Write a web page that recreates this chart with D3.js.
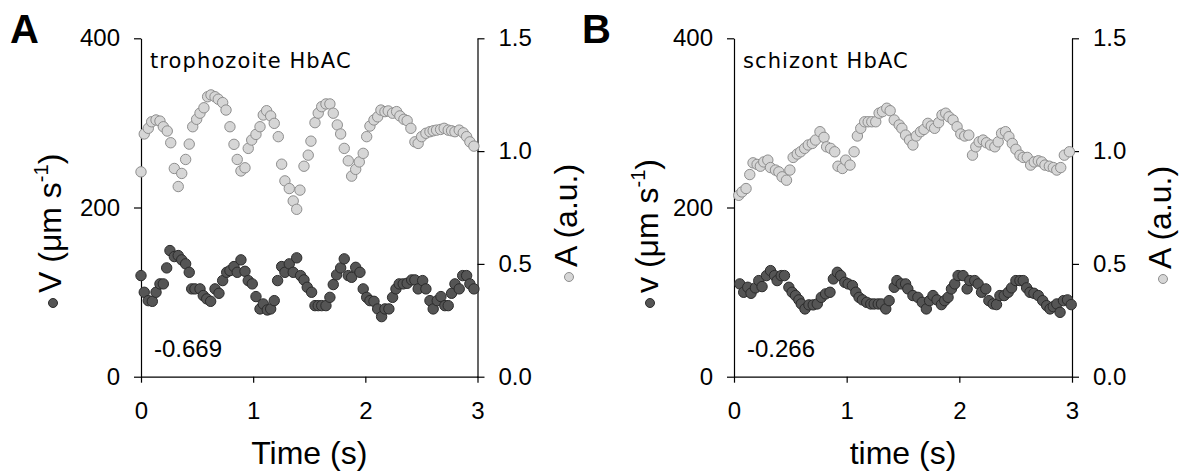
<!DOCTYPE html>
<html>
<head>
<meta charset="utf-8">
<script src="https://cdn.jsdelivr.net/npm/d3@7"></script>
<style>
  body { margin: 0; background: #fff; }
  svg text { font-family: "Liberation Sans", Arial, sans-serif; fill: #000; }
</style>
</head>
<body>
<svg id="chart" width="1182" height="475"></svg>
<script>
// ---- data: [time (s), value] ----
const tropho_A = [[0,.908],[.029,1.076],[.065,1.101],[.095,1.130],[.134,1.138],[.169,1.133],[.199,1.108],[.234,1.089],[.265,1.037],[.297,.923],
  [.332,.843],[.363,.901],[.398,.963],[.430,1.031],[.461,1.108],[.496,1.141],[.526,1.168],[.561,1.192],[.594,1.241],[.624,1.249],
  [.660,1.241],[.689,1.230],[.728,1.215],[.758,1.182],[.793,1.108],[.829,1.030],[.858,.963],[.891,.912],[.927,.926],[.956,1.012],
  [.987,1.049],[1.025,1.074],[1.061,1.108],[1.090,1.160],[1.120,1.179],[1.156,1.156],[1.188,1.123],[1.224,1.064],[1.254,.942],[1.283,.868],
  [1.322,.834],[1.357,.779],[1.388,.742],[1.417,.827],[1.453,.933],[1.491,.982],[1.515,1.044],[1.551,1.126],[1.580,1.168],[1.611,1.197],
  [1.649,1.209],[1.684,1.209],[1.714,1.168],[1.750,1.116],[1.780,1.076],[1.812,1.012],[1.848,.957],[1.878,.889],[1.914,.919],[1.946,.952],
  [1.981,.990],[2.012,1.064],[2.041,1.111],[2.077,1.138],[2.110,1.152],[2.139,1.182],[2.175,1.175],[2.204,1.178],[2.243,1.168],[2.279,1.175],
  [2.308,1.156],[2.344,1.141],[2.373,1.135],[2.406,1.101],[2.442,1.041],[2.471,1.034],[2.502,1.064],[2.540,1.079],[2.576,1.086],[2.605,1.090],
  [2.635,1.093],[2.671,1.096],[2.703,1.101],[2.739,1.093],[2.769,1.090],[2.799,1.086],[2.837,1.093],[2.873,1.081],[2.903,1.064],[2.932,1.041],
  [2.968,1.022]];

const tropho_V = [[0,119.5],[.029,99.8],[.065,89.9],[.101,89.1],[.134,99.8],[.169,109.7],[.199,109.7],[.229,128.6],[.258,149.1],[.297,142],
  [.332,143.2],[.363,138.1],[.398,133.4],[.430,123.4],[.452,103.8],[.481,103.8],[.526,103.8],[.555,95.9],[.586,92],[.621,89.1],
  [.660,103.8],[.695,98.6],[.728,113.6],[.764,123.4],[.793,125.4],[.829,130.2],[.858,123.4],[.891,138.1],[.927,124.6],[.956,113.6],
  [.992,109.7],[1.025,94.7],[1.061,80.1],[1.090,86],[1.126,78.9],[1.156,80.1],[1.188,89.9],[1.218,113.6],[1.254,130.2],[1.283,123.4],
  [1.322,133.4],[1.357,123.4],[1.388,140.5],[1.423,119.5],[1.453,114.4],[1.482,105.7],[1.521,99.8],[1.551,84],[1.580,84],[1.611,84],
  [1.649,84],[1.684,93.8],[1.714,108.9],[1.744,120.4],[1.780,128.6],[1.812,139.3],[1.848,119.5],[1.878,117.5],[1.914,129.3],[1.952,123.4],
  [1.981,103.8],[2.012,93.8],[2.041,89.9],[2.077,89.1],[2.110,80.1],[2.145,71],[2.175,80.1],[2.210,80.1],[2.243,93.8],[2.273,103.8],
  [2.302,109.7],[2.338,109.7],[2.373,110.4],[2.413,114.4],[2.442,114.4],[2.471,103.8],[2.511,113.6],[2.540,103.8],[2.576,89.9],[2.605,80.1],
  [2.641,89.9],[2.674,94.7],[2.709,84],[2.739,84],[2.769,98.6],[2.799,109.7],[2.837,103.8],[2.868,119.5],[2.903,119.5],[2.932,109.7],
  [2.968,103.8]];

const schiz_A = [[.042,.804],[.071,.819],[.107,.834],[.140,.896],[.169,.948],[.205,.941],[.234,.933],[.264,.952],[.300,.960],[.324,.927],
  [.368,.916],[.398,.908],[.427,.886],[.466,.871],[.496,.916],[.525,.972],[.561,.987],[.591,.997],[.627,1.012],[.659,1.027],
  [.695,1.034],[.724,1.049],[.763,1.086],[.799,1.061],[.822,1.019],[.858,1.012],[.894,.997],[.923,.933],[.962,.923],[.991,.960],
  [1.030,.938],[1.066,.997],[1.095,1.067],[1.125,1.101],[1.160,1.130],[1.191,1.130],[1.223,1.130],[1.258,1.130],[1.288,1.168],[1.318,1.175],
  [1.356,1.190],[1.386,1.179],[1.422,1.138],[1.466,1.116],[1.490,1.101],[1.523,1.071],[1.558,1.049],[1.588,1.027],[1.618,1.067],[1.656,1.086],
  [1.686,1.096],[1.721,1.123],[1.751,1.111],[1.781,1.101],[1.816,1.126],[1.846,1.160],[1.879,1.168],[1.908,1.152],[1.944,1.138],[1.980,1.108],
  [2.013,1.076],[2.048,1.067],[2.084,1.071],[2.117,.982],[2.146,1.019],[2.176,1.041],[2.211,1.049],[2.241,1.037],[2.277,1.027],[2.315,1.019],
  [2.345,1.041],[2.375,1.079],[2.410,1.086],[2.440,1.064],[2.470,1.034],[2.502,1.008],[2.538,.982],[2.567,.972],[2.603,.972],[2.633,.938],
  [2.665,.952],[2.701,.957],[2.731,.952],[2.760,.938],[2.799,.933],[2.834,.927],[2.865,.916],[2.900,.927],[2.932,.982],[2.977,.997]];

const schiz_V = [[.051,109.7],[.086,99.8],[.122,105.7],[.151,98.6],[.190,105],[.220,113.6],[.249,106.5],[.288,119.5],[.324,125.4],[.360,119.5],
  [.383,113.6],[.419,119.5],[.448,119.5],[.487,105.7],[.516,99.8],[.546,95.9],[.576,90.8],[.597,86],[.630,80.1],[.665,84.9],
  [.703,84.9],[.739,86],[.775,93.8],[.813,97.9],[.852,99.8],[.882,115.6],[.917,123.4],[.947,119.5],[.983,111.6],[1.013,109.7],
  [1.051,107.7],[1.081,99.8],[1.110,93.8],[1.140,90.8],[1.178,87.9],[1.214,86],[1.244,86],[1.280,86],[1.309,86],[1.347,80.1],
  [1.377,89.9],[1.422,105.7],[1.446,113.6],[1.484,109.7],[1.523,109.7],[1.543,103.8],[1.588,95.9],[1.632,93.8],[1.671,87.9],[1.707,80.1],
  [1.736,89.9],[1.766,95.9],[1.802,90.8],[1.841,85.2],[1.870,89.9],[1.900,93.8],[1.930,103.8],[1.959,109.7],[1.989,119.5],[2.033,119.5],
  [2.069,103.8],[2.093,113.6],[2.137,113.6],[2.167,109.7],[2.197,99.8],[2.235,103.8],[2.262,89.9],[2.300,86],[2.330,85.2],[2.360,95.9],
  [2.398,95.9],[2.434,99.8],[2.464,105],[2.502,113.6],[2.538,113.6],[2.567,113.6],[2.597,105],[2.627,99.8],[2.662,98.6],[2.701,95.9],
  [2.740,89.9],[2.775,84],[2.805,80.1],[2.834,82.8],[2.865,86],[2.894,76.1],[2.924,89.9],[2.960,90.8],[2.993,85.2]];

const xTicks = [0, 1, 2, 3];
const vTicks = [0, 200, 400];
const aTicks = [0, 0.5, 1.0, 1.5];

const panels = [
  {letter: "A", title: "trophozoite HbAC", corr: "-0.669", xlabel: "Time (s)", vlabel: "V",
   A: tropho_A, V: tropho_V, left: 141, right: 477.5, letterX: 10, vLabX: 61, vLabY: 303, aLabX: 577, aLabY: 277},
  {letter: "B", title: "schizont HbAC", corr: "-0.266", xlabel: "time (s)", vlabel: "v",
   A: schiz_A, V: schiz_V, left: 734, right: 1072, letterX: 582, vLabX: 658, vLabY: 303, aLabX: 1171, aLabY: 279}
];

const plotTop = 38.3, plotBottom = 376.7;
const lightFill = "#d6d6d6", lightStroke = "#8e8e8e";
const darkFill = "#555555", darkStroke = "#2b2b2b";
const r = 5.2;

const svg = d3.select("#chart");

panels.forEach(p => {
  const x = d3.scaleLinear().domain([0, 3]).range([p.left, p.right]);
  const yV = d3.scaleLinear().domain([0, 400]).range([plotBottom, plotTop]);
  const yA = d3.scaleLinear().domain([0, 1.5]).range([plotBottom, plotTop]);

  const g = svg.append("g");

  // axes
  g.append("g").attr("transform", "translate(0," + plotBottom + ")")
    .call(d3.axisBottom(x).tickValues(xTicks).tickSize(6).tickPadding(19).tickSizeOuter(0).tickFormat(d3.format("d")));
  g.append("g").attr("transform", "translate(" + p.left + ",0)")
    .call(d3.axisLeft(yV).tickValues(vTicks).tickSize(7).tickPadding(14).tickSizeOuter(0));
  g.append("g").attr("transform", "translate(" + p.right + ",0)")
    .call(d3.axisRight(yA).tickValues(aTicks).tickSize(7).tickPadding(14).tickSizeOuter(0).tickFormat(d3.format(".1f")));

  g.selectAll(".domain, .tick line").attr("stroke", "#000").attr("stroke-width", 1.2);
  g.selectAll(".tick text").style("font-size", "24px").attr("fill", "#000");

  // points
  g.append("g").selectAll("circle").data(p.A).join("circle")
    .attr("cx", d => x(d[0])).attr("cy", d => yA(d[1])).attr("r", r)
    .attr("fill", lightFill).attr("stroke", lightStroke).attr("stroke-width", 1);
  g.append("g").selectAll("circle").data(p.V).join("circle")
    .attr("cx", d => x(d[0])).attr("cy", d => yV(d[1])).attr("r", r)
    .attr("fill", darkFill).attr("stroke", darkStroke).attr("stroke-width", 1);

  // texts in plot
  g.append("text").attr("x", p.left + 9).attr("y", 68)
    .style("font-family", "'DejaVu Sans', sans-serif").style("font-size", "21px")
    .style("letter-spacing", "1.1px").text(p.title);
  g.append("text").attr("x", p.left + 13).attr("y", 357)
    .style("font-size", "24px").text(p.corr);

  // panel letter
  g.append("text").attr("x", p.letterX).attr("y", 43)
    .style("font-size", "40px").style("font-weight", "bold").text(p.letter);

  // x label
  g.append("text").attr("x", (p.left + p.right) / 2).attr("y", 464).attr("text-anchor", "middle")
    .style("font-size", "32px").text(p.xlabel);

  // left label with marker
  const lv = g.append("g").attr("transform", "translate(" + p.vLabX + "," + p.vLabY + ") rotate(-90)");
  lv.append("circle").attr("cx", 0).attr("cy", -8).attr("r", 4.5)
    .attr("fill", darkFill).attr("stroke", darkStroke);
  const tv = lv.append("text").attr("x", 10).attr("y", 0).style("font-size", "32px");
  tv.append("tspan").text(p.vlabel + " (\u03bcm s");
  tv.append("tspan").attr("dy", -13).style("font-size", "20px").text("-1");
  tv.append("tspan").attr("dy", 13).text(")");

  // right label with marker
  const la = g.append("g").attr("transform", "translate(" + p.aLabX + "," + p.aLabY + ") rotate(-90)");
  la.append("circle").attr("cx", 0).attr("cy", -8).attr("r", 4.5)
    .attr("fill", lightFill).attr("stroke", lightStroke);
  la.append("text").attr("x", 10).attr("y", 0).style("font-size", "32px").text("A (a.u.)");
});
</script>
</body>
</html>
